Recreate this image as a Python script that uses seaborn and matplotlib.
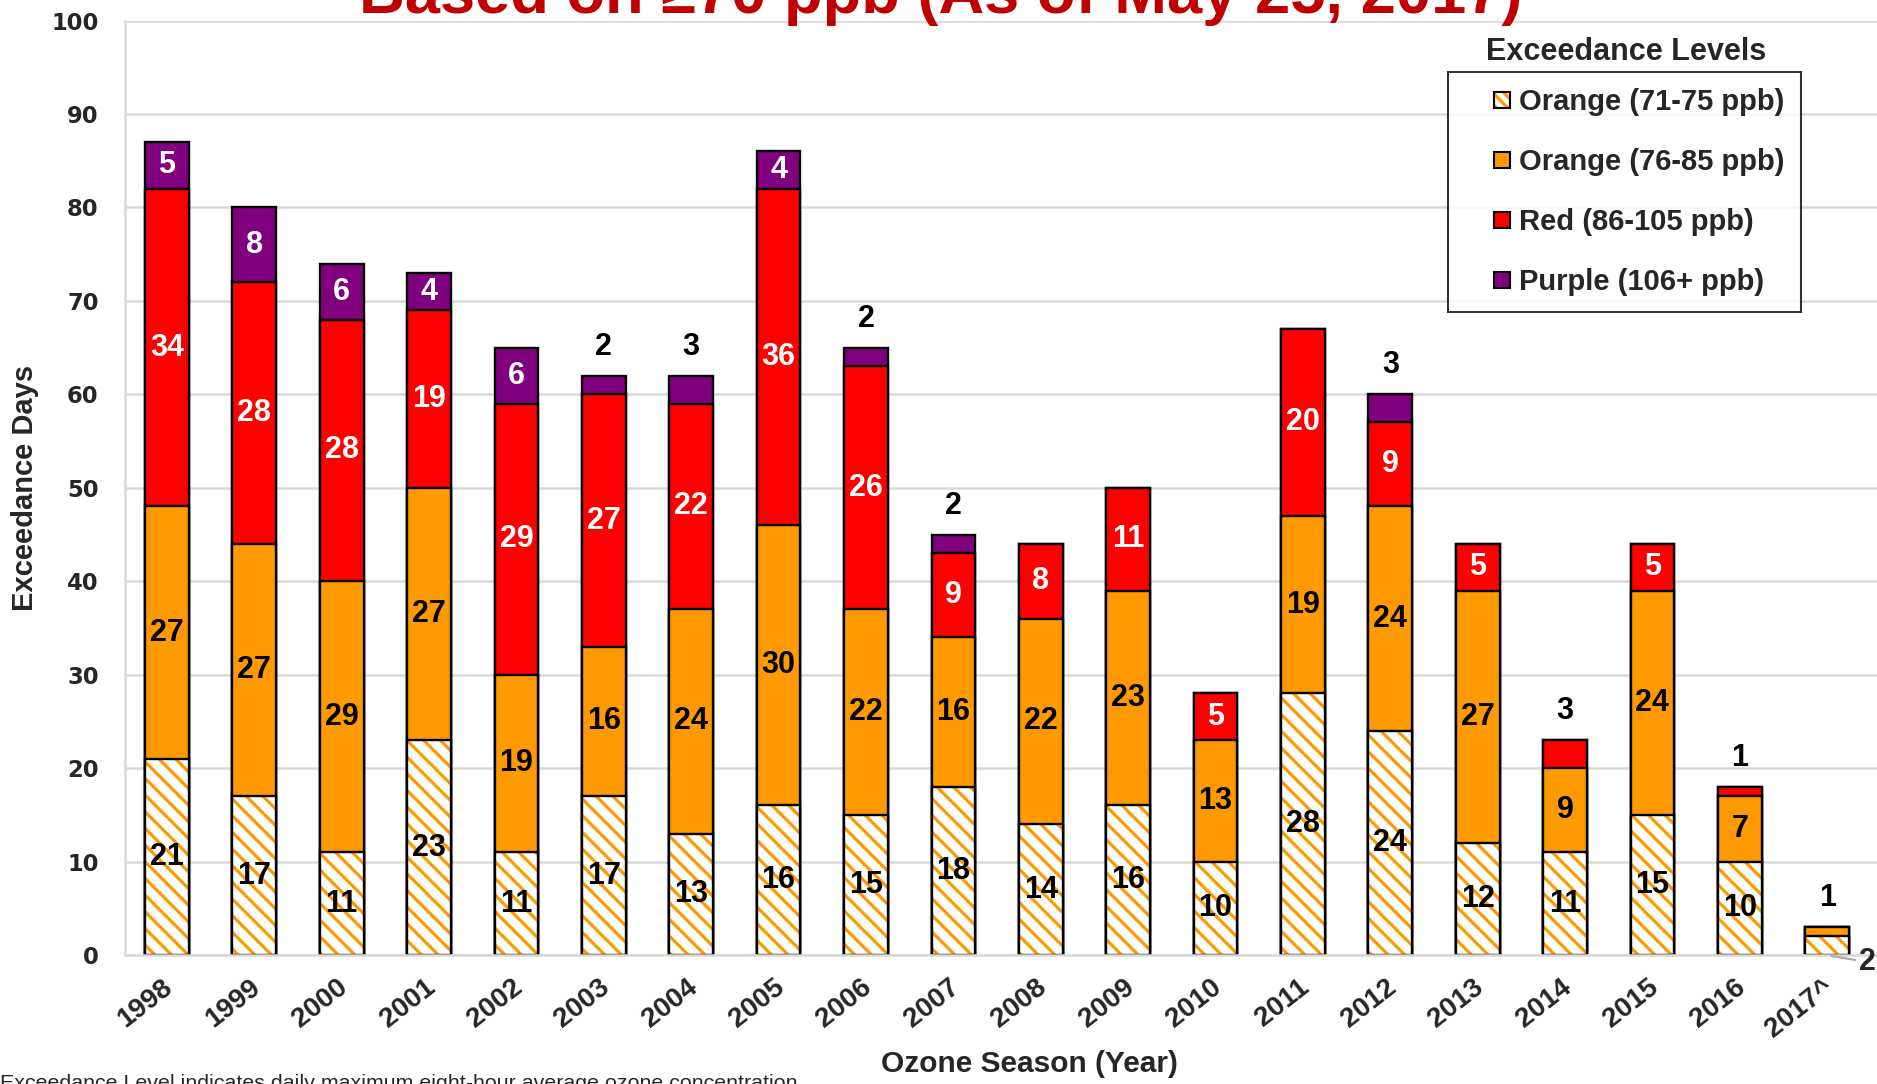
import numpy as np
import pandas as pd
import seaborn as sns
import matplotlib.pyplot as plt
import matplotlib.transforms as mtransforms
from matplotlib.patches import Patch, Rectangle
from matplotlib.legend_handler import HandlerPatch
from matplotlib.colors import to_rgba

years = ['1998', '1999', '2000', '2001', '2002', '2003', '2004', '2005', '2006', '2007',
         '2008', '2009', '2010', '2011', '2012', '2013', '2014', '2015', '2016', '2017^']
orange_low = [21, 17, 11, 23, 11, 17, 13, 16, 15, 18, 14, 16, 10, 28, 24, 12, 11, 15, 10, 2]
orange_high = [27, 27, 29, 27, 19, 16, 24, 30, 22, 16, 22, 23, 13, 19, 24, 27, 9, 24, 7, 1]
red = [34, 28, 28, 19, 29, 27, 22, 36, 26, 9, 8, 11, 5, 20, 9, 5, 3, 5, 1, 0]
purple = [5, 8, 6, 4, 6, 2, 3, 4, 2, 2, 0, 0, 0, 0, 3, 0, 0, 0, 0, 0]
levels = ['Orange (71-75 ppb)', 'Orange (76-85 ppb)', 'Red (86-105 ppb)', 'Purple (106+ ppb)']

ORANGE = '#FF9900'
RED = '#FF0000'
PURPLE = '#800080'
GRID = '#D9D9D9'

sns.set_style('white')
plt.rcParams['font.family'] = ['Liberation Sans', 'DejaVu Sans']
plt.rcParams['hatch.linewidth'] = 2.3

df = pd.DataFrame({'year': years, 'o1': orange_low, 'o2': orange_high,
                   'red': red, 'purple': purple})
# cumulative heights, drawn from the top down so each layer covers the last
df['c1'] = df['o1']
df['c2'] = df['c1'] + df['o2']
df['c3'] = df['c2'] + df['red']
df['c4'] = df['c3'] + df['purple']

fig = plt.figure(figsize=(18.77, 10.84), dpi=100)
ax = fig.add_axes([0.0666, 0.119, 0.9334, 0.862])

common = dict(x='year', width=0.5, saturation=1, errorbar=None, ax=ax)
sns.barplot(data=df, y='c4', color=PURPLE, edgecolor='black', linewidth=1.7, **common)
sns.barplot(data=df, y='c3', color=RED, edgecolor='black', linewidth=1.7, **common)
sns.barplot(data=df, y='c2', color=ORANGE, edgecolor='black', linewidth=1.7, **common)
sns.barplot(data=df, y='c1', color='white', edgecolor=ORANGE, linewidth=0, hatch='\\\\', **common)
sns.barplot(data=df, y='c1', color='black', fill=False, linewidth=1.7, **common)

ax.set_ylim(0, 100)
ax.set_xlim(-0.48, 19.57)
ax.set_yticks(np.arange(0, 101, 10))
ax.yaxis.grid(True, color=GRID, linewidth=1.8)
ax.set_axisbelow(True)
for s in ['top', 'right']:
    ax.spines[s].set_visible(False)
for s in ['left', 'bottom']:
    ax.spines[s].set_color(GRID)
    ax.spines[s].set_linewidth(1.8)
ax.tick_params(axis='both', length=0)
ax.tick_params(axis='y', pad=19)
ax.tick_params(axis='x', pad=14)
for lab in ax.get_yticklabels():
    lab.set_fontfamily('DejaVu Sans')
    lab.set_fontweight('bold')
    lab.set_fontsize(16.3)
shift = mtransforms.ScaledTranslation(-5 / 100, 0, fig.dpi_scale_trans)
for lab in ax.get_xticklabels():
    lab.set_fontweight('bold')
    lab.set_fontsize(20)
    lab.set_rotation(38)
    lab.set_ha('right')
    lab.set_va('top')
    lab.set_rotation_mode('anchor')
    lab.set_transform(lab.get_transform() + shift)

ax.set_ylabel('Exceedance Days', fontsize=21, fontweight='bold')
ax.yaxis.set_label_coords(-0.049, 0.5)
ax.set_xlabel('Ozone Season (Year)', fontsize=21.5, fontweight='bold')
ax.xaxis.set_label_coords(0.516, -0.102)

# segment labels
for i, row in df.iterrows():
    segs = [(0, row['o1'], 'black'), (row['c1'], row['o2'], 'black'),
            (row['c2'], row['red'], 'white'), (row['c3'], row['purple'], 'white')]
    for k, (base, val, col) in enumerate(segs):
        if val == 0:
            continue
        if k == 0 and val <= 3:
            ax.annotate(str(val), xy=(i + 0.05, -0.1), xytext=(i + 0.36, -0.75),
                        fontsize=22, fontweight='bold', va='center', ha='left',
                        annotation_clip=False,
                        arrowprops=dict(arrowstyle='-', color='#A6A6A6', lw=1.5,
                                        shrinkA=0, shrinkB=0))
        elif val <= 3:
            ax.text(i, row['c4'] + 3.1, str(val), ha='center', va='center',
                    fontsize=22, fontweight='bold', color='black')
        else:
            ax.text(i, base + val / 2, str(val), ha='center', va='center',
                    fontsize=22, fontweight='bold', color=col)


def small_square(legend, orig_handle, xdescent, ydescent, width, height, fontsize):
    s = 0.55 * fontsize
    return Rectangle((width - s - xdescent, -ydescent + (height - s) / 2), s, s)


hatch_handle = Patch(facecolor='white', edgecolor='black', hatch='\\\\\\', linewidth=1.5)
hatch_handle._hatch_color = to_rgba(ORANGE)
handles = [hatch_handle,
           Patch(facecolor=ORANGE, edgecolor='black', linewidth=1.5),
           Patch(facecolor=RED, edgecolor='black', linewidth=1.5),
           Patch(facecolor=PURPLE, edgecolor='black', linewidth=1.5)]
leg = ax.legend(handles, levels, loc='upper left', bbox_to_anchor=(0.755, 0.945),
                frameon=True, fancybox=False, edgecolor='black',
                prop={'weight': 'bold', 'size': 21}, handlelength=1.6, handleheight=0.7,
                handletextpad=0.3, labelspacing=1.1, borderpad=0.55, borderaxespad=0,
                handler_map={Patch: HandlerPatch(patch_func=small_square)})
leg.get_frame().set_linewidth(1.5)
ax.text(0.857, 0.966, 'Exceedance Levels', transform=ax.transAxes, ha='center',
        va='center', fontsize=22, fontweight='bold')

fig.text(0.501, 0.988, 'Based on \u226570 ppb (As of May 25, 2017)', ha='center',
         va='baseline', fontsize=45.5, fontweight='bold', color='#C00000')
fig.text(0.0, 0.009, 'Exceedance Level indicates daily maximum eight-hour average ozone concentration.',
         ha='left', va='top', fontsize=15.4)

fig.savefig('out.png', dpi=100)
